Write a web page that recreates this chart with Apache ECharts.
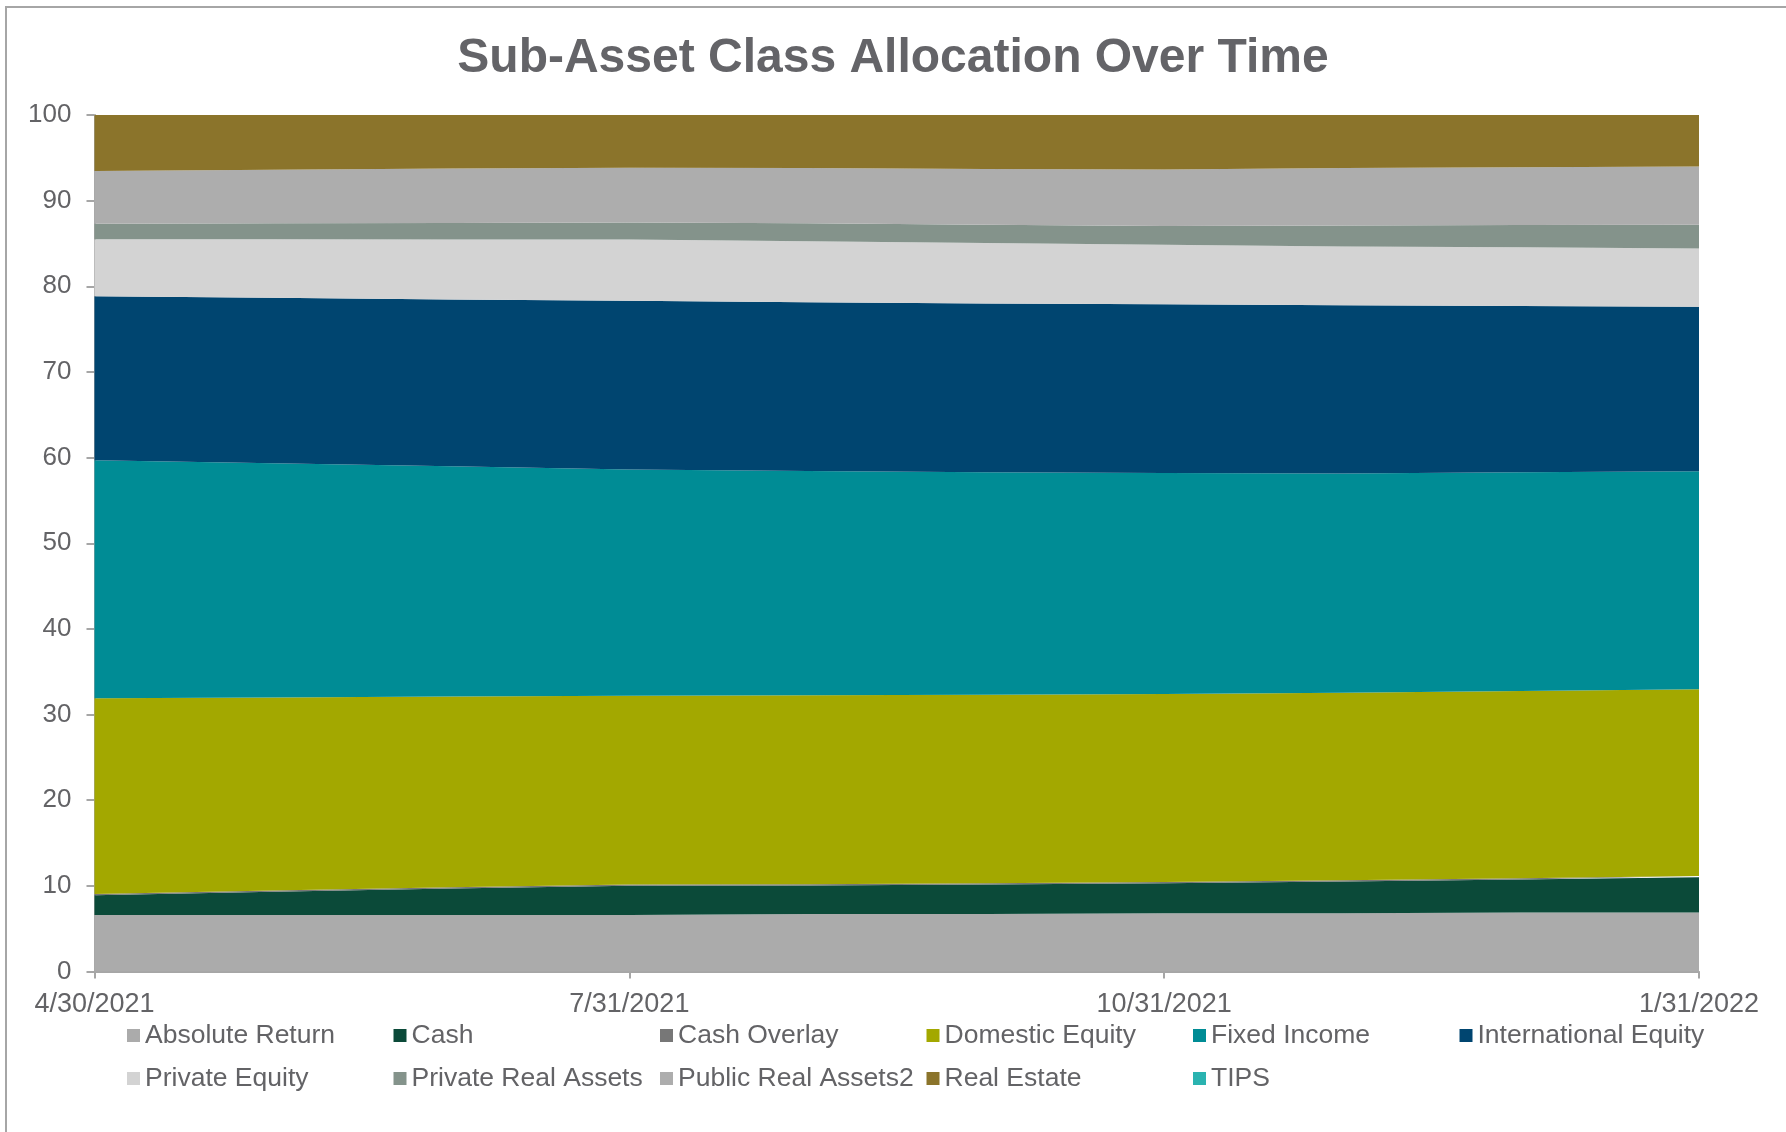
<!DOCTYPE html>
<html>
<head>
<meta charset="utf-8">
<title>Sub-Asset Class Allocation Over Time</title>
<script src="https://cdn.jsdelivr.net/npm/echarts@6/dist/echarts.min.js"></script>
<style>
  html, body { margin: 0; padding: 0; background: #fff; overflow: hidden; }
  #frame {
    position: absolute; left: 5px; top: 6px; width: 1800px; height: 1140px;
    border-left: 2px solid #a6a6a6; border-top: 2px solid #a6a6a6;
  }
  #chart { position: absolute; left: 0; top: 0; width: 1786px; height: 1132px; }
</style>
</head>
<body>
<div id="frame"></div>
<div id="chart"></div>
<script>
// Month-end dates (x axis)
const dates = ['4/30/2021', '5/31/2021', '6/30/2021', '7/31/2021', '8/31/2021',
  '9/30/2021', '10/31/2021', '11/30/2021', '12/31/2021', '1/31/2022'];

// Allocation (%) per sub-asset class
const absoluteReturn = [6.6, 6.6, 6.6, 6.6, 6.7, 6.7, 6.8, 6.8, 6.9, 6.9];
const cash = [2.3, 2.7, 3.1, 3.4, 3.35, 3.45, 3.5, 3.7, 3.85, 4.1];
const cashOverlay = [0.15, 0.15, 0.15, 0.15, 0.15, 0.15, 0.15, 0.15, 0.15, 0.15];
const domesticEquity = [22.85, 22.55, 22.25, 22.05, 22.05, 22.0, 21.95, 21.9, 21.85, 21.8];
const fixedIncome = [27.8, 27.35, 26.9, 26.4, 26.2, 26.0, 25.8, 25.6, 25.55, 25.45];
const internationalEquity = [19.15, 19.3, 19.45, 19.7, 19.7, 19.7, 19.7, 19.65, 19.4, 19.2];
const privateEquity = [6.65, 6.85, 7.0, 7.15, 7.1, 7.05, 6.95, 6.85, 6.85, 6.8];
const privateRealAssets = [1.8, 1.85, 1.95, 2.0, 2.1, 2.15, 2.2, 2.45, 2.6, 2.8];
const publicRealAssets2 = [6.15, 6.25, 6.35, 6.4, 6.45, 6.5, 6.6, 6.7, 6.75, 6.8];
const realEstate = [6.55, 6.4, 6.25, 6.15, 6.2, 6.3, 6.35, 6.2, 6.1, 6.0];
const tips = [0, 0, 0, 0, 0, 0, 0, 0, 0, 0];

const seriesNames = ['Absolute Return', 'Cash', 'Cash Overlay', 'Domestic Equity', 'Fixed Income',
  'International Equity', 'Private Equity', 'Private Real Assets', 'Public Real Assets2',
  'Real Estate', 'TIPS'];
const seriesData = [absoluteReturn, cash, cashOverlay, domesticEquity, fixedIncome,
  internationalEquity, privateEquity, privateRealAssets, publicRealAssets2, realEstate, tips];
const colors = ['#ababab', '#0b4a39', '#777777', '#a3a800', '#008c95',
  '#004570', '#d3d3d3', '#84938b', '#adadad', '#8b742b', '#2ab3b0'];

const textColor = '#636366';
const font = '"Liberation Sans", Arial, sans-serif';

const chart = echarts.init(document.getElementById('chart'));

// Legend laid out as a fixed grid, one legend per entry
const legends = seriesNames.map((name, i) => ({
  data: [name],
  left: 127 + (i % 6) * 266.5,
  top: 1022 + Math.floor(i / 6) * 43,
  itemWidth: 13,
  itemHeight: 13,
  itemGap: 0,
  padding: 0,
  icon: 'rect',
  selectedMode: false,
  textStyle: { fontSize: 26.5, color: textColor, fontFamily: font }
}));

const option = {
  animation: false,
  color: colors,
  title: {
    text: 'Sub-Asset Class Allocation Over Time',
    left: 'center',
    top: 30,
    textStyle: {
      fontSize: 48,
      fontWeight: 'bold',
      color: '#646468',
      fontFamily: font
    }
  },
  legend: legends,
  grid: { left: 94.5, right: 87, top: 115, bottom: 160.5 },
  xAxis: {
    type: 'category',
    data: dates,
    boundaryGap: false,
    axisLine: { lineStyle: { color: '#a6a6a6', width: 2 } },
    axisTick: { interval: 2, length: 7, lineStyle: { color: '#a6a6a6', width: 2 } },
    axisLabel: { interval: 2, fontSize: 27, color: textColor, fontFamily: font, margin: 20 },
    splitLine: { show: false }
  },
  yAxis: {
    type: 'value',
    min: 0,
    max: 100,
    interval: 10,
    axisLine: { show: true, lineStyle: { color: '#a6a6a6', width: 2 } },
    axisTick: { show: true, length: 8, lineStyle: { color: '#a6a6a6', width: 2 } },
    axisLabel: { fontSize: 26, color: textColor, fontFamily: font, margin: 23 },
    splitLine: { show: false }
  },
  series: seriesNames.map((name, i) => ({
    name: name,
    type: 'line',
    stack: 'total',
    data: seriesData[i],
    showSymbol: false,
    symbol: 'none',
    lineStyle: { width: 0 },
    areaStyle: { color: colors[i], opacity: 1 },
    itemStyle: { color: colors[i] },
    z: 2
  }))
};

chart.setOption(option);
</script>
</body>
</html>
